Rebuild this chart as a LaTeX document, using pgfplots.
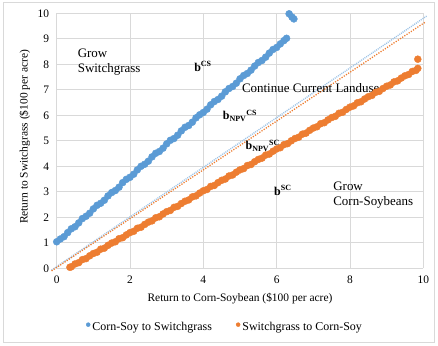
\documentclass[border=0pt]{standalone}
\usepackage{pgfplots}
\pgfplotsset{compat=1.18}
\usepackage{fontspec}
\setmainfont{Liberation Serif}

\definecolor{csblue}{RGB}{91,155,213}
\definecolor{scorange}{RGB}{237,125,49}
\definecolor{tlblue}{RGB}{157,195,230}
\definecolor{gridgray}{RGB}{217,217,217}

\begin{document}
\begin{tikzpicture}
\useasboundingbox (-56.7bp,-77.7bp) rectangle (381.3bp,268.3bp);
% chart area frame
\draw[gray!30, line width=1.2pt] (-53.5bp,-74.5bp) rectangle (378bp,265.5bp);
\begin{axis}[
  at={(0,0)}, anchor=south west,
  scale only axis, width=366.6bp, height=255bp,
  xmin=0, xmax=10, ymin=0, ymax=10,
  xtick={0,2,...,10}, ytick={0,1,...,10},
  grid=major, major grid style={gridgray, line width=0.8pt},
  axis line style={draw=none}, tick style={draw=none},
  clip=false,
  /pgf/number format/assume math mode=true,
  ticklabel style={font=\fontsize{11.5}{13}\selectfont},
  xticklabel style={yshift=-4bp},
  yticklabel style={xshift=-4bp},
  xlabel={Return to Corn-Soybean (\$100 per acre)},
  ylabel={Return to Switchgrass (\$100 per acre)},
  label style={font=\fontsize{11.5}{13}\selectfont},
  xlabel style={at={(axis description cs:0.5,-0.118)}, anchor=center},
  ylabel style={at={(axis description cs:-0.087,0.515)}, anchor=center},
  legend style={at={(axis description cs:0.459,-0.231)}, anchor=center,
    draw=none, fill=none, font=\fontsize{12}{14}\selectfont,
    /tikz/every odd column/.append style={column sep=0bp},
    /tikz/every even column/.append style={column sep=22bp}},
  legend columns=2, legend cell align=left,
]

% Corn-Soy to Switchgrass thresholds
\addplot[only marks, mark=*, mark size=3.5bp, csblue, mark options={draw=csblue, fill=csblue},
  legend image code/.code={\fill[csblue] (0.35cm,0) circle (2bp);}]
  coordinates {
  (0.00,1.04)(0.10,1.15)(0.20,1.24)(0.30,1.40)(0.40,1.55)(0.50,1.63)(0.60,1.78)
  (0.70,1.95)(0.80,2.04)(0.90,2.16)(1.00,2.33)(1.10,2.47)(1.20,2.55)(1.30,2.67)
  (1.40,2.84)(1.50,2.97)(1.60,3.05)(1.70,3.18)(1.80,3.36)(1.90,3.49)(2.00,3.57)
  (2.10,3.69)(2.20,3.86)(2.30,4.00)(2.40,4.08)(2.50,4.20)(2.60,4.37)(2.70,4.51)
  (2.80,4.58)(2.90,4.71)(3.00,4.88)(3.10,5.02)(3.20,5.09)(3.30,5.22)(3.40,5.39)
  (3.50,5.53)(3.60,5.60)(3.70,5.73)(3.80,5.90)(3.90,6.02)(4.00,6.11)(4.10,6.24)
  (4.20,6.41)(4.30,6.54)(4.40,6.62)(4.50,6.75)(4.60,6.92)(4.70,7.05)(4.80,7.13)
  (4.90,7.26)(5.00,7.43)(5.10,7.56)(5.20,7.64)(5.30,7.77)(5.40,7.93)(5.50,8.07)
  (5.60,8.15)(5.70,8.28)(5.80,8.44)(5.90,8.58)(6.00,8.66)(6.10,8.80)(6.20,8.93)
  (6.27,9.02)(6.34,9.98)(6.42,9.85)(6.47,9.78)
  };
\addlegendentry{Corn-Soy to Switchgrass}

% Switchgrass to Corn-Soy thresholds
\addplot[only marks, mark=*, mark size=3.5bp, scorange, mark options={draw=scorange, fill=scorange},
  legend image code/.code={\fill[scorange] (0.35cm,0) circle (2bp);}]
  coordinates {
  (0.36,0.04)(0.40,0.06)(0.50,0.17)(0.60,0.22)(0.70,0.34)(0.80,0.38)(0.90,0.49)
  (1.00,0.58)(1.10,0.63)(1.20,0.75)(1.30,0.79)(1.40,0.90)(1.50,0.99)(1.60,1.04)
  (1.70,1.16)(1.80,1.20)(1.90,1.31)(2.00,1.40)(2.10,1.45)(2.20,1.57)(2.30,1.61)
  (2.40,1.72)(2.50,1.81)(2.60,1.86)(2.70,1.98)(2.80,2.02)(2.90,2.13)(3.00,2.22)
  (3.10,2.27)(3.20,2.39)(3.30,2.43)(3.40,2.54)(3.50,2.63)(3.60,2.68)(3.70,2.80)
  (3.80,2.84)(3.90,2.95)(4.00,3.04)(4.10,3.09)(4.20,3.21)(4.30,3.25)(4.40,3.36)
  (4.50,3.45)(4.60,3.50)(4.70,3.62)(4.80,3.66)(4.90,3.77)(5.00,3.86)(5.10,3.91)
  (5.20,4.03)(5.30,4.07)(5.40,4.18)(5.50,4.27)(5.60,4.32)(5.70,4.44)(5.80,4.48)
  (5.90,4.59)(6.00,4.68)(6.10,4.73)(6.20,4.85)(6.30,4.89)(6.40,5.00)(6.50,5.09)
  (6.60,5.14)(6.70,5.26)(6.80,5.30)(6.90,5.41)(7.00,5.50)(7.10,5.55)(7.20,5.67)
  (7.30,5.71)(7.40,5.82)(7.50,5.91)(7.60,5.96)(7.70,6.08)(7.80,6.12)(7.90,6.23)
  (8.00,6.32)(8.10,6.37)(8.20,6.49)(8.30,6.53)(8.40,6.64)(8.50,6.73)(8.60,6.78)
  (8.70,6.90)(8.80,6.94)(8.90,7.05)(9.00,7.14)(9.10,7.19)(9.20,7.31)(9.30,7.35)
  (9.40,7.46)(9.50,7.55)(9.60,7.60)(9.70,7.72)(9.80,7.76)(9.85,7.84)(9.85,8.20)
  };
\addlegendentry{Switchgrass to Corn-Soy}

% NPV break-even lines
\addplot[forget plot, tlblue, line width=1.4bp, dash pattern=on 1bp off 1bp]
  coordinates {(-0.14,-0.07) (10.09,9.89)};
\addplot[forget plot, scorange, line width=1.3bp, dash pattern=on 1.2bp off 1.4bp]
  coordinates {(-0.14,-0.10) (10.06,9.66)};

% region and threshold annotations
\node[anchor=west, align=left, font=\fontsize{13}{15}\selectfont]
  at (axis cs:0.48,8.07) {Grow\\Switchgrass};
\node[anchor=west, align=left, font=\fontsize{13}{15}\selectfont]
  at (axis cs:7.45,2.86) {Grow\\Corn-Soybeans};
\node[font=\fontsize{13}{15}\selectfont] at (axis cs:6.93,7.07) {Continue Current Landuse};
\node[font=\fontsize{12}{14}\selectfont\bfseries] at (axis cs:3.99,7.92) {b\textsuperscript{CS}};
\node[font=\fontsize{12}{14}\selectfont\bfseries] at (axis cs:5.0,5.97) {b\textsubscript{NPV}\textsuperscript{CS}};
\node[font=\fontsize{12}{14}\selectfont\bfseries] at (axis cs:5.62,4.8) {b\textsubscript{NPV}\textsuperscript{SC}};
\node[font=\fontsize{12}{14}\selectfont\bfseries] at (axis cs:6.17,3.05) {b\textsuperscript{SC}};
\end{axis}
\end{tikzpicture}
\end{document}
